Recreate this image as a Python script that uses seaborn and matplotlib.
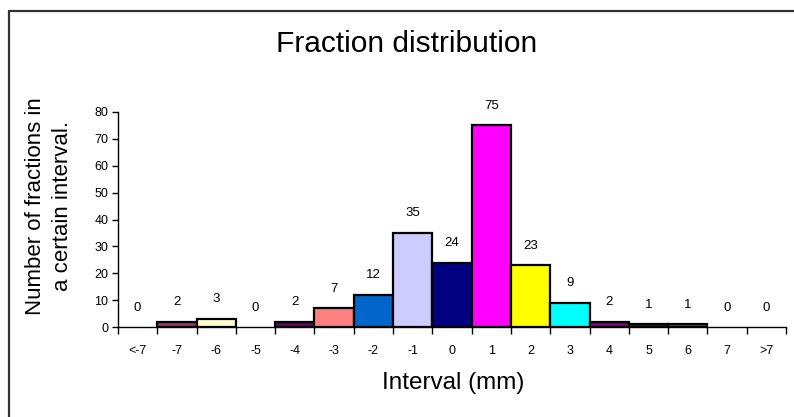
import matplotlib
matplotlib.use("Agg")
import matplotlib.pyplot as plt
import seaborn as sns
import pandas as pd
import numpy as np
from matplotlib.lines import Line2D

categories = ["<-7", "-7", "-6", "-5", "-4", "-3", "-2", "-1", "0", "1", "2", "3", "4", "5", "6", "7", ">7"]
counts = [0, 2, 3, 0, 2, 7, 12, 35, 24, 75, 23, 9, 2, 1, 1, 0, 0]
bar_colors = ["#FFFFFF", "#993366", "#FFFFCC", "#FFFFFF", "#660066", "#FF8080", "#0066CC",
              "#CCCCFF", "#000080", "#FF00FF", "#FFFF00", "#00FFFF", "#800080", "#800000",
              "#008080", "#FFFFFF", "#FFFFFF"]
y_ticks = [0, 10, 20, 30, 40, 50, 60, 70, 80]

sns.set_theme(style="white")
plt.rcParams["font.family"] = ["Liberation Sans", "DejaVu Sans"]
plt.rcParams["text.color"] = "black"
plt.rcParams["xtick.color"] = "black"
plt.rcParams["ytick.color"] = "black"
plt.rcParams["axes.labelcolor"] = "black"

df = pd.DataFrame({"interval": categories, "count": counts})

W, H = 794, 417
fig = plt.figure(figsize=(W / 100, H / 100), dpi=100)
ax_l, ax_r, ax_b, ax_t = 118, 786, 327, 112
ax = fig.add_axes([ax_l / W, 1 - ax_b / H, (ax_r - ax_l) / W, (ax_b - ax_t) / H])

sns.barplot(data=df, x="interval", y="count", hue="interval", order=categories,
            hue_order=categories, palette=dict(zip(categories, bar_colors)),
            width=1.0, legend=False, ax=ax, edgecolor="black", linewidth=1.6,
            saturation=1)

# hide edges of zero-height bars
for p, v in zip(ax.patches, counts):
    if v == 0:
        p.set_linewidth(0)
        p.set_edgecolor("none")

for i, v in enumerate(counts):
    ax.annotate(str(v), (i, v), xytext=(0, 14), textcoords="offset points",
                ha="center", va="center", fontsize=9.5, color="black")

ax.set_xlim(-0.5, len(categories) - 0.5)
ax.set_ylim(0, 80)
ax.set_yticks(y_ticks)
ax.set_yticklabels([str(t) for t in y_ticks], fontsize=9)
ax.set_xticks(range(len(categories)))
ax.set_xticklabels(categories, fontsize=9)
ax.set_xticks(np.arange(-0.5, len(categories), 1.0), minor=True)
ax.tick_params(axis="x", which="major", length=0, pad=13, colors="black")
ax.tick_params(axis="x", which="minor", length=5, width=1, color="black", direction="out", bottom=True)
ax.tick_params(axis="y", which="major", length=4, width=1, color="black", labelcolor="black",
               direction="out", left=True, pad=3)
ax.set_xlabel("")
ax.set_ylabel("")

for s in ["top", "right"]:
    ax.spines[s].set_visible(False)
for s in ["left", "bottom"]:
    ax.spines[s].set_visible(True)
    ax.spines[s].set_color("black")
    ax.spines[s].set_linewidth(1.0)
ax.set_facecolor("white")

fig.text(407 / W, 1 - 44 / H, "Fraction distribution", ha="center", va="center",
         fontsize=21.5, color="black")
fig.text(453 / W, 1 - 383 / H, "Interval (mm)", ha="center", va="center",
         fontsize=17.5, color="black")
fig.text(49 / W, 1 - 206 / H, "Number of fractions in\na certain interval.", ha="center",
         va="center", rotation=90, fontsize=16, linespacing=1.38, color="black")

# chart border (left and top visible)
fig.add_artist(Line2D([8.5 / W, 8.5 / W], [0, 1 - 11 / H], transform=fig.transFigure,
                      color="#333333", linewidth=1.6))
fig.add_artist(Line2D([8.5 / W, 1], [1 - 11 / H, 1 - 11 / H], transform=fig.transFigure,
                      color="#333333", linewidth=1.6))

fig.savefig("out.png", dpi=100, facecolor="white")
